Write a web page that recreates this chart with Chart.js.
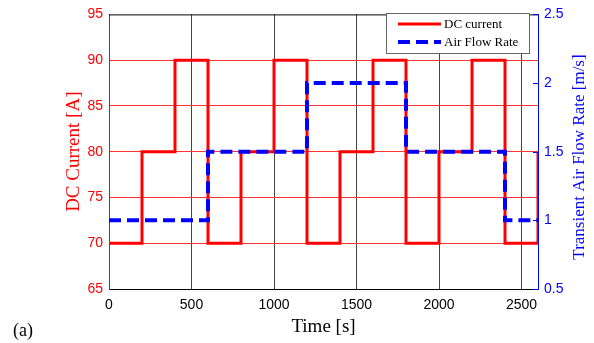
<!DOCTYPE html>
<html>
<head>
<meta charset="utf-8">
<script src="https://cdn.jsdelivr.net/npm/chart.js@4.4.0/dist/chart.umd.min.js"></script>
<style>
  body { margin: 0; background: #fff; }
</style>
</head>
<body>
<canvas id="chart" width="594" height="343"></canvas>
<script>
// courant DC (A) par palier
const timeSteps = [0, 200, 400, 600, 800, 1000, 1200, 1400, 1600, 1800, 2000, 2200, 2400, 2600];
const dcCurrent = [70, 80, 90, 70, 80, 90, 70, 80, 90, 70, 80, 90, 70, 80];

// debit d'air (m/s)
const flowSteps = [0, 600, 1200, 1800, 2400, 2600];
const airFlow = [1, 1.5, 2, 1.5, 1, 1];

// graduations
const timeTicks = [0, 500, 1000, 1500, 2000, 2500];
const currentTicks = [65, 70, 75, 80, 85, 90, 95];
const flowTicks = [0.5, 1, 1.5, 2, 2.5];

const serif = '"Liberation Serif", "Times New Roman", serif';
const sans = '"Liberation Sans", Arial, sans-serif';

// cadre du haut, petits ticks a droite, titre de droite, legende, (a)
const extras = {
    id: 'extras',
    afterDraw(chart) {
        const ctx = chart.ctx;
        const area = chart.chartArea;
        const y1 = chart.scales.y1;
        ctx.save();

        ctx.strokeStyle = '#000';
        ctx.lineWidth = 1;
        ctx.beginPath();
        ctx.moveTo(area.left, area.top + 0.5);
        ctx.lineTo(area.right, area.top + 0.5);
        ctx.stroke();

        ctx.strokeStyle = '#0000ff';
        y1.ticks.forEach(t => {
            const py = Math.round(y1.getPixelForValue(t.value)) + 0.5;
            ctx.beginPath();
            ctx.moveTo(area.right - 5, py);
            ctx.lineTo(area.right, py);
            ctx.stroke();
        });

        ctx.fillStyle = '#0000ff';
        ctx.font = '17px ' + serif;
        ctx.textAlign = 'center';
        ctx.textBaseline = 'middle';
        ctx.translate(580, 157);
        ctx.rotate(-Math.PI / 2);
        ctx.fillText('Transient Air Flow Rate [m/s]', 0, 0);
        ctx.setTransform(1, 0, 0, 1, 0, 0);

        // legende
        ctx.fillStyle = '#fff';
        ctx.fillRect(386, 13, 143, 40);
        ctx.strokeStyle = '#666';
        ctx.lineWidth = 1;
        ctx.strokeRect(386.5, 13.5, 143, 40);
        const items = [chart.data.datasets[0], chart.data.datasets[1]];
        const rows = [24, 42];
        ctx.font = '13px ' + serif;
        ctx.textAlign = 'left';
        items.forEach((ds, i) => {
            ctx.strokeStyle = ds.borderColor;
            ctx.lineWidth = ds.borderWidth;
            ctx.setLineDash(ds.borderDash || []);
            ctx.beginPath();
            ctx.moveTo(398, rows[i]);
            ctx.lineTo(441, rows[i]);
            ctx.stroke();
            ctx.setLineDash([]);
            ctx.fillStyle = '#000';
            ctx.fillText(ds.label, 444, rows[i] + 1);
        });

        ctx.fillStyle = '#000';
        ctx.font = '18px ' + serif;
        ctx.textBaseline = 'alphabetic';
        ctx.fillText('(a)', 13, 336);
        ctx.restore();
    }
};

const lineChart = document.querySelector('#chart');
const graph = new Chart(lineChart, {
    type: 'line',
    data: {
        datasets: [
            {
                label: 'DC current',
                data: timeSteps.map((t, i) => ({ x: t, y: dcCurrent[i] })),
                borderColor: '#ff0000',
                borderWidth: 3,
                stepped: true,
                pointRadius: 0,
                yAxisID: 'y',
                order: 2,
            },
            {
                label: 'Air Flow Rate',
                data: flowSteps.map((t, i) => ({ x: t, y: airFlow[i] })),
                borderColor: '#0000ff',
                borderWidth: 4,
                borderDash: [12, 6],
                stepped: true,
                pointRadius: 0,
                yAxisID: 'y1',
                order: 1,
            },
        ],
    },
    options: {
        responsive: false,
        animation: false,
        devicePixelRatio: 1,
        layout: { padding: { top: 14, left: 0, right: 0, bottom: 0 } },
        plugins: {
            legend: { display: false },
            tooltip: { enabled: false },
        },
        scales: {
            x: {
                type: 'linear',
                min: 0,
                max: 2600,
                afterFit: s => { s.height = 54; },
                afterBuildTicks: s => { s.ticks = timeTicks.map(v => ({ value: v })); },
                ticks: {
                    color: '#000',
                    font: { family: sans, size: 14 },
                    padding: 8,
                    maxRotation: 0,
                    autoSkip: false,
                    callback: v => String(v),
                },
                grid: {
                    color: c => (c.tick && c.tick.value === 0 ? 'rgba(0,0,0,0)' : '#444'),
                    drawTicks: false,
                },
                border: { color: '#000', width: 1 },
                title: {
                    display: true,
                    text: 'Time [s]',
                    color: '#000',
                    font: { family: serif, size: 19 },
                    padding: { top: 0, bottom: 5 },
                },
            },
            y: {
                position: 'left',
                min: 65,
                max: 95,
                afterFit: s => { s.width = 109; },
                afterBuildTicks: s => { s.ticks = currentTicks.map(v => ({ value: v })); },
                ticks: {
                    color: '#ff0000',
                    font: { family: sans, size: 14 },
                    padding: 6,
                    callback: v => String(v),
                },
                grid: {
                    color: c => (c.tick && (c.tick.value === 65 || c.tick.value === 95) ? 'rgba(0,0,0,0)' : '#ff3333'),
                    drawTicks: false,
                },
                border: { color: '#ff0000', width: 1 },
                title: {
                    display: true,
                    text: 'DC Current [A]',
                    color: '#ff0000',
                    font: { family: serif, size: 19 },
                    padding: { top: 63, bottom: 0 },
                },
            },
            y1: {
                position: 'right',
                min: 0.5,
                max: 2.5,
                afterFit: s => { s.width = 56; },
                afterBuildTicks: s => { s.ticks = flowTicks.map(v => ({ value: v })); },
                ticks: {
                    color: '#0000ff',
                    font: { family: sans, size: 14 },
                    padding: 6,
                    callback: v => String(v),
                },
                grid: { drawOnChartArea: false, drawTicks: false },
                border: { color: '#0000ff', width: 1 },
            },
        },
    },
    plugins: [extras],
});
</script>
</body>
</html>
